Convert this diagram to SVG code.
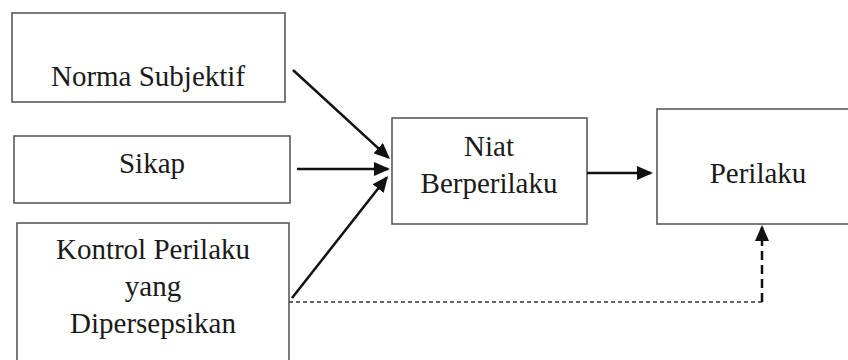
<svg xmlns="http://www.w3.org/2000/svg" width="848" height="360" viewBox="0 0 848 360">
  <style>
    .box { fill: #ffffff; stroke: #5a5a5a; stroke-width: 1.6; }
    .lbl { font-size: 29px; fill: #1a1a1a; text-anchor: middle; }
    .arr { fill: none; stroke: #111111; stroke-width: 2.5; }
    .dash-thin { fill: none; stroke: #333333; stroke-width: 1.5; stroke-dasharray: 4 3; }
    .dash-thick { fill: none; stroke: #111111; stroke-width: 2.5; stroke-dasharray: 9 5; }
  </style>
  <defs>
    <marker id="ah" viewBox="0 0 16 14" refX="14" refY="7" markerWidth="16" markerHeight="14" markerUnits="userSpaceOnUse" orient="auto">
      <path d="M0,0 L16,7 L0,14 z" fill="#111111"/>
    </marker>
  </defs>
  <rect width="848" height="360" fill="#ffffff"/>

  <g font-family="'Liberation Serif', 'Times New Roman', 'DejaVu Serif', serif">
  <g id="norma-subjektif">
    <rect class="box" x="12" y="13" width="273" height="89"/>
    <text class="lbl" x="148" y="86">Norma Subjektif</text>
  </g>
  <g id="sikap">
    <rect class="box" x="14" y="136" width="276" height="67"/>
    <text class="lbl" x="152" y="173">Sikap</text>
  </g>
  <g id="kontrol">
    <rect class="box" x="17" y="223" width="272" height="145"/>
    <text class="lbl" x="153" y="259">Kontrol Perilaku</text>
    <text class="lbl" x="153" y="296">yang</text>
    <text class="lbl" x="153" y="333">Dipersepsikan</text>
  </g>
  <g id="niat">
    <rect class="box" x="392" y="118" width="195" height="106"/>
    <text class="lbl" x="489" y="156">Niat</text>
    <text class="lbl" x="489" y="193">Berperilaku</text>
  </g>
  <g id="perilaku">
    <rect class="box" x="657" y="109" width="205" height="115"/>
    <text class="lbl" x="758" y="183">Perilaku</text>
  </g>
  </g>

  <g id="connectors">
    <path class="arr" d="M293,70 L388.5,157.6" marker-end="url(#ah)"/>
    <path class="arr" d="M297,169 L388,169" marker-end="url(#ah)"/>
    <path class="arr" d="M292,298 L386.8,177.6" marker-end="url(#ah)"/>
    <path class="arr" d="M587,173 L651,173" marker-end="url(#ah)"/>
    <path class="dash-thin" d="M289,302 L762,302"/>
    <path class="dash-thick" d="M762,302 L762,227" marker-end="url(#ah)"/>
  </g>
</svg>
